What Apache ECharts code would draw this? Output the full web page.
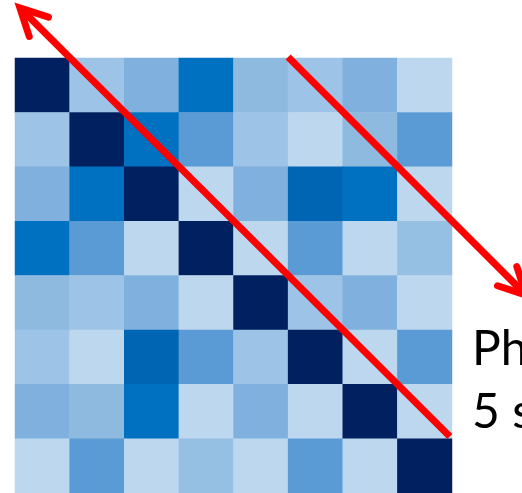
<!DOCTYPE html>
<html>
<head>
<meta charset="utf-8">
<script src="https://cdn.jsdelivr.net/npm/echarts@6/dist/echarts.min.js"></script>
<style>
  html, body { margin: 0; padding: 0; background: #ffffff; }
  #chart { width: 522px; height: 493px; }
</style>
</head>
<body>
<div id="chart"></div>
<script>
// Channel labels (8 x 8 similarity matrix)
const channels = ['C1', 'C2', 'C3', 'C4', 'C5', 'C6', 'C7', 'C8'];

// Matrix rows, top to bottom
const row0 = [1.00, 0.25, 0.40, 0.70, 0.33, 0.25, 0.40, 0.10];
const row1 = [0.25, 1.00, 0.70, 0.55, 0.25, 0.10, 0.33, 0.55];
const row2 = [0.40, 0.70, 1.00, 0.10, 0.40, 0.80, 0.70, 0.10];
const row3 = [0.70, 0.55, 0.10, 1.00, 0.10, 0.55, 0.10, 0.30];
const row4 = [0.33, 0.25, 0.40, 0.10, 1.00, 0.25, 0.40, 0.10];
const row5 = [0.25, 0.10, 0.80, 0.55, 0.25, 1.00, 0.10, 0.55];
const row6 = [0.40, 0.33, 0.70, 0.10, 0.40, 0.10, 1.00, 0.10];
const row7 = [0.10, 0.55, 0.10, 0.30, 0.10, 0.55, 0.10, 1.00];
const matrixRows = [row0, row1, row2, row3, row4, row5, row6, row7];

// Colour levels for the cells
const levelValues = [0.10, 0.25, 0.30, 0.33, 0.40, 0.55, 0.70, 0.80, 1.00];
const levelColors = ['#bdd7ee', '#9dc3e6', '#95bfe3', '#8fbae0', '#80b0de',
                     '#5b9bd5', '#0070c0', '#0066b3', '#002060'];

// Arrows, in cell units (x: column, y: row from top)
const arrowTails = [[7.96, 6.96], [5.00, -0.02]];
const arrowTips  = [[0.09, -0.92], [9.355, 4.36]];

// Side caption
const captionLines = ['Ph', '5 s'];

const heatData = [];
matrixRows.forEach((r, ri) => r.forEach((v, ci) => heatData.push([ci, ri, v])));

const pieces = levelValues.map((v, i) => ({
  gte: v - 0.005, lt: v + 0.005, color: levelColors[i]
}));

const arrowData = arrowTails.map((t, i) => [t[0], t[1], arrowTips[i][0], arrowTips[i][1]]);

const gridRect = { left: 15, top: 58, width: 437, height: 435 };

const chart = echarts.init(document.getElementById('chart'), null, { renderer: 'canvas' });

chart.setOption({
  backgroundColor: '#ffffff',
  animation: false,
  grid: [
    Object.assign({}, gridRect),
    Object.assign({}, gridRect)
  ],
  xAxis: [
    { type: 'category', data: channels, gridIndex: 0, show: false },
    { type: 'value', min: 0, max: 8, gridIndex: 1, show: false }
  ],
  yAxis: [
    { type: 'category', data: channels, gridIndex: 0, inverse: true, show: false },
    { type: 'value', min: 0, max: 8, gridIndex: 1, inverse: true, show: false }
  ],
  visualMap: {
    type: 'piecewise',
    show: false,
    seriesIndex: 0,
    dimension: 2,
    pieces: pieces
  },
  series: [
    {
      type: 'heatmap',
      xAxisIndex: 0,
      yAxisIndex: 0,
      data: heatData,
      itemStyle: { borderWidth: 0 },
      emphasis: { disabled: true }
    },
    {
      type: 'custom',
      xAxisIndex: 1,
      yAxisIndex: 1,
      clip: false,
      silent: true,
      data: arrowData,
      renderItem: function (params, api) {
        const tail = api.coord([api.value(0), api.value(1)]);
        const tip = api.coord([api.value(2), api.value(3)]);
        const dx = tail[0] - tip[0], dy = tail[1] - tip[1];
        const len = Math.sqrt(dx * dx + dy * dy);
        const ux = dx / len, uy = dy / len;
        const ang = 27 * Math.PI / 180, arm = 30;
        const rot = (a) => [
          tip[0] + arm * (ux * Math.cos(a) - uy * Math.sin(a)),
          tip[1] + arm * (ux * Math.sin(a) + uy * Math.cos(a))
        ];
        const red = '#ff0000', w = 7;
        return {
          type: 'group',
          children: [
            {
              type: 'line',
              shape: { x1: tail[0], y1: tail[1], x2: tip[0] + ux * 3, y2: tip[1] + uy * 3 },
              style: { stroke: red, lineWidth: w, lineCap: 'butt' }
            },
            {
              type: 'polyline',
              shape: { points: [rot(ang), tip, rot(-ang)] },
              style: { stroke: red, fill: null, lineWidth: w, lineCap: 'round', lineJoin: 'miter', miterLimit: 10 }
            }
          ]
        };
      }
    }
  ],
  graphic: captionLines.map((t, i) => ({
    type: 'text',
    left: 472,
    top: 326 + i * 63,
    silent: true,
    style: {
      text: t,
      font: '48px Lato, "Open Sans", sans-serif',
      fill: '#000000'
    }
  }))
});
</script>
</body>
</html>
